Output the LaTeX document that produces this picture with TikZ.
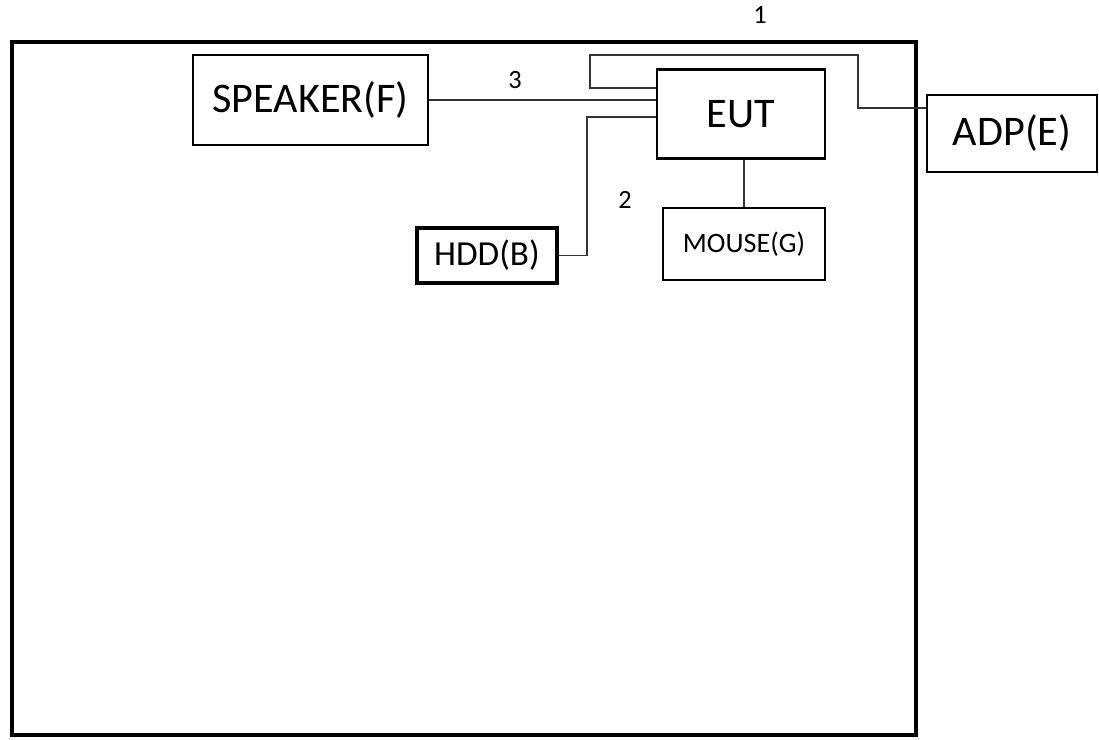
\documentclass[tikz,border=0pt]{standalone}
\usepackage{fontspec}
\setmainfont{Carlito}
\usetikzlibrary{positioning}

\begin{document}
\begin{tikzpicture}[x=0.02cm,y=-0.02cm,
		unit/.style={draw,line width=1.4pt,inner sep=0pt},
		big/.style={font=\fontsize{24}{28}\selectfont},
		cable/.style={line width=0.8pt,black!80},
		num/.style={font=\fontsize{15}{18}\selectfont}]

	\useasboundingbox (0,0) rectangle (1099,740);

	% table
	\draw[line width=2.8pt] (12,42) rectangle (916,735);

	% units
	\node[unit,big,minimum width=4.7cm,minimum height=1.8cm] (spk) at (310.5,100) {SPEAKER(F)};
	\node[unit,big,minimum width=3.36cm,minimum height=1.78cm] (eut) at (741,114) {EUT};
	\node[unit,big,minimum width=3.4cm,minimum height=1.54cm] (adp) at (1012,133.5) {ADP(E)};
	\node[unit,line width=2.2pt,minimum width=2.8cm,minimum height=1.1cm,font=\fontsize{20}{24}\selectfont] (hdd) at (487,255.5) {HDD(B)};
	\node[unit,minimum width=3.24cm,minimum height=1.44cm,font=\fontsize{16}{19}\selectfont] (mouse) at (744,244) {MOUSE(G)};

	% cables
	\coordinate (loop) at (590,55);
	\coordinate (jog) at (858,108);
	\coordinate (bend) at (587,255.5);

	\draw[cable] (eut.west |- 0,88) -| (loop) -| (jog) -- (adp.west |- jog);
	\draw[cable] (spk.east) -- (eut.west |- spk.east);
	\draw[cable] (eut.west |- 0,117) -| (bend) -- (hdd.east);
	\draw[cable] (mouse.north |- eut.south) -- (mouse.north);

	\node[num] (n1) at (760,15) {1};
	\node[num] (n2) at (625,200) {2};
	\node[num] (n3) at (515,80) {3};
\end{tikzpicture}
\end{document}
